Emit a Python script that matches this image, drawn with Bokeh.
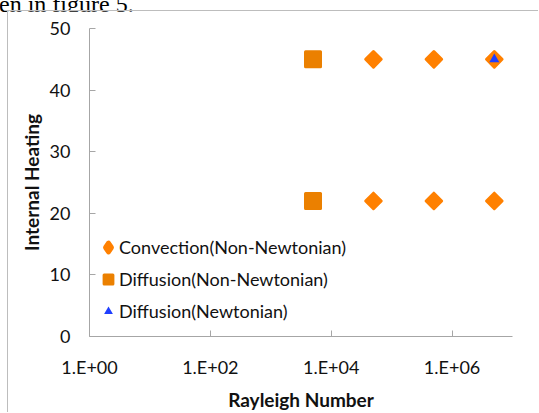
from math import pi
from bokeh.plotting import figure
from bokeh.layouts import column
from bokeh.models import (FixedTicker, Legend, LegendItem, Range1d, ColumnDataSource, Div,
                          InlineStyleSheet)
from bokeh.embed import file_html
from bokeh.resources import INLINE

# ---- data ----
conv_x = [5e4, 5e5, 5e6, 5e4, 5e5, 5e6]
conv_y = [45, 45, 45, 22, 22, 22]
diff_nn_x = [5e3, 5e3]
diff_nn_y = [45, 22]
diff_n_x = [5e6]
diff_n_y = [45]
x_ticks = [1, 100, 10000, 1000000]
x_tick_labels = ["1.E+00", "1.E+02", "1.E+04", "1.E+06"]
y_ticks = [0, 10, 20, 30, 40, 50]
series_names = ["Convection(Non-Newtonian)", "Diffusion(Non-Newtonian)", "Diffusion(Newtonian)"]
page_fragment = "en in figure 5."

# canvas origin on the page is (OX, OY): chart-area border sits just outside it
OX, OY = 8, 11
W, H = 539 - OX, 413 - OY
FL, FR, FT, FB = 89 - OX, 512 - OX, 28 - OY, 338 - OY

p = figure(width=W, height=H, x_axis_type="log",
           x_range=Range1d(1, 1e7), y_range=Range1d(0, 50),
           output_backend="svg", toolbar_location=None,
           min_border_left=FL, min_border_right=W - FR,
           min_border_top=FT, min_border_bottom=H - FB,
           margin=(0, 0, 0, 7),
           styles={"border-top": "1px solid #bdbdbd", "border-left": "1px solid #bdbdbd"})
p.xgrid.visible = False
p.ygrid.visible = False
p.outline_line_color = None
p.background_fill_color = "white"
p.border_fill_color = "white"

AX = "#a6a6a6"
FONT = "Lato"
for ax in (p.xaxis[0], p.yaxis[0]):
    ax.axis_line_color = AX
    ax.major_tick_line_color = AX
    ax.major_tick_in = 6
    ax.major_tick_out = 0
    ax.minor_tick_line_color = None
    ax.major_label_text_font = FONT
    ax.major_label_text_font_size = "18px"
    ax.major_label_text_color = "#111111"
    ax.axis_label_text_font = FONT
    ax.axis_label_text_font_style = "bold"
    ax.axis_label_text_font_size = "19px"
    ax.axis_label_text_color = "#111111"

p.xaxis.ticker = FixedTicker(ticks=x_ticks)
p.xaxis.major_label_overrides = {t: l for t, l in zip(x_ticks, x_tick_labels)}
p.xaxis.major_label_standoff = 19
p.xaxis.axis_label = "Rayleigh Number"
p.xaxis.axis_label_standoff = 7

p.yaxis.ticker = FixedTicker(ticks=y_ticks)
p.yaxis.major_label_standoff = 19
p.yaxis.axis_label = "Internal Heating"
p.yaxis.axis_label_standoff = 4

conv_src = ColumnDataSource(dict(x=conv_x, y=conv_y))
r_conv = p.scatter("x", "y", source=conv_src, marker="square", angle=pi / 4, size=11,
                   fill_color="#ff8000", line_color="#ff8000", line_width=3, line_join="round")
r_dnn = p.scatter(diff_nn_x, diff_nn_y, marker="square", size=15,
                  fill_color="#eb8000", line_color="#eb8000", line_width=3, line_join="round")
r_dn = p.scatter(diff_n_x, diff_n_y, marker="triangle", size=10,
                 fill_color="#1f3fff", line_color=None)
# legend key for the diamonds: same data, hidden in the plot, upright diamond in the legend
r_conv_key = p.scatter("x", "y", source=conv_src, marker="diamond", size=10, visible=False,
                       fill_color="#ff8000", line_color="#ff8000", line_width=5, line_join="round")

legend = Legend(items=[LegendItem(label=series_names[0], renderers=[r_conv_key]),
                       LegendItem(label=series_names[1], renderers=[r_dnn]),
                       LegendItem(label=series_names[2], renderers=[r_dn])],
                location=(8, 14), orientation="vertical",
                glyph_width=22, glyph_height=22, label_height=22, spacing=10,
                label_standoff=0, padding=0, margin=0,
                background_fill_alpha=0, border_line_color=None,
                inactive_fill_alpha=0,
                label_text_font=FONT, label_text_font_size="18px",
                label_text_color="#111111")
p.add_layout(legend, "center")

# fragment of the surrounding document text, cut off at the top of the page
frag = Div(text=f'<div style="font-family:\'Liberation Serif\';font-size:24px;line-height:24px;'
                f'margin-top:-16px;margin-left:-1px;white-space:nowrap;color:#000">{page_fragment}</div>',
           width=300, height=10, margin=(0, 0, 0, 0),
           stylesheets=[InlineStyleSheet(css=":host{overflow:visible !important;} "
                                             "div{overflow:visible !important;}")])

layout = column(frag, p, spacing=0, margin=(0, 0, 0, 0))
open("out.html", "w").write(file_html(layout, INLINE))
